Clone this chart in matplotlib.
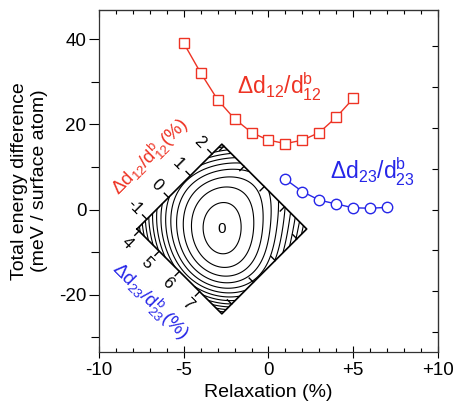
import numpy as np
import matplotlib
matplotlib.use('Agg')
import matplotlib.pyplot as plt
from matplotlib.transforms import Affine2D
from matplotlib.ticker import MultipleLocator

plt.rcParams['font.family'] = ['Liberation Sans', 'DejaVu Sans']
plt.rcParams['mathtext.fontset'] = 'custom'
plt.rcParams['mathtext.rm'] = 'Liberation Sans'
plt.rcParams['mathtext.it'] = 'Liberation Sans:italic'
plt.rcParams['mathtext.default'] = 'regular'
plt.rcParams['axes.unicode_minus'] = False

# energy vs relaxation of the first interlayer spacing
x12 = [-5, -4, -3, -2, -1, 0, 1, 2, 3, 4, 5]
e12 = [39.1, 32.1, 25.8, 21.3, 18.1, 16.3, 15.5, 16.3, 18.1, 21.7, 26.1]
# energy vs relaxation of the second interlayer spacing
x23 = [1, 2, 3, 4, 5, 6, 7]
e23 = [7.1, 4.2, 2.2, 1.3, 0.4, 0.3, 0.5]

xticks = [-10, -5, 0, 5, 10]
xticklabels = ['-10', '-5', '0', '+5', '+10']
yticks = [-20, 0, 20, 40]
right_ticks = [-28.8, -19.2, -9.6, 0, 9.6, 19.2, 28.8, 38.4]

# inset: energy map over (d23, d12)
d12_range = (-1.45, 2.45)
d23_range = (3.9, 8.1)
d12_ticks = [-1, 0, 1, 2]
d23_ticks = [4, 5, 6, 7]
d12_best, d23_best = 0.5, 6.0
# rough shape of the surface (curvature, coupling, anharmonic terms)
A, C, G, Q = 4.56, 2.9, 1.5, 0.3
levels = np.arange(0.6, 40, 1.0)

red = '#ee3324'
blue = '#2626e8'

fig = plt.figure(figsize=(4.56, 4.07), dpi=100)
W, H = 456, 407
ax = fig.add_axes([99 / W, 1 - 352 / H, (438 - 99) / W, (352 - 10) / H])

ax.plot(x12, e12, '-', color=red, lw=1.0, marker='s', ms=7.5, mfc='white', mec=red, mew=1.0)
ax.plot(x23, e23, '-', color=blue, lw=1.0, marker='o', ms=7.5, mfc='white', mec=blue, mew=1.0)

ax.set_xlim(-10, 10)
ax.set_ylim(-33.5, 46.9)
ax.set_xticks(xticks)
ax.set_xticklabels(xticklabels)
ax.set_yticks(yticks)
ax.xaxis.set_minor_locator(MultipleLocator(1))
ax.yaxis.set_minor_locator(MultipleLocator(10))
ax.tick_params(axis='x', which='major', direction='inout', length=8, width=0.8, labelsize=13.5, pad=3)
ax.tick_params(axis='x', which='minor', direction='in', length=3, width=0.8)
ax.tick_params(axis='y', which='major', direction='out', length=7, width=0.8, labelsize=13.5, pad=2)
ax.tick_params(axis='y', which='minor', direction='out', length=6, width=0.8)
for s in ax.spines.values():
    s.set_linewidth(0.9)
    s.set_color('#333333')

axt = ax.secondary_xaxis('top')
axt.set_xticks(xticks)
axt.xaxis.set_minor_locator(MultipleLocator(1))
axt.tick_params(which='major', direction='in', length=5, width=0.8, labeltop=False)
axt.tick_params(which='minor', direction='in', length=3, width=0.8)
axr = ax.secondary_yaxis('right')
axr.set_yticks(right_ticks)
axr.tick_params(direction='in', length=4.5, width=0.8, labelright=False)

ax.set_xlabel('Relaxation (%)', fontsize=14, labelpad=4)
ax.set_ylabel('Total energy difference\n(meV / surface atom)', fontsize=14, labelpad=8)

ax.text(-1.85, 27.0, r'$\Delta d_{12}/d_{12}^{b}$', color=red, fontsize=16.5, va='baseline')
ax.text(3.6, 7.1, r'$\Delta d_{23}/d_{23}^{b}$', color=blue, fontsize=16.5, va='baseline')

# rotated inset drawn in pixel space
ax_in = fig.add_axes([0, 0, 1, 1], zorder=5)
ax_in.patch.set_visible(False)
edge = 120.0
sx = edge / (d23_range[1] - d23_range[0])
sy = edge / (d12_range[1] - d12_range[0])
Lx, Ly = 137, 229
T = (Affine2D().translate(-d23_range[0], -d12_range[0]).scale(sx, -sy)
     .rotate_deg(45).translate(Lx, Ly) + ax_in.transData)

g23 = np.linspace(d23_range[0], d23_range[1], 300)
g12 = np.linspace(d12_range[0], d12_range[1], 300)
G23, G12 = np.meshgrid(g23, g12)
s1 = (G12 - d12_best) / 1.95
s2 = (G23 - d23_best) / 2.1
E = A * (s1 ** 2 + s2 ** 2) + C * s1 * s2 - G * s1 ** 3 + Q * (s1 - s2) ** 4
ax_in.contour(G23, G12, E, levels=levels, colors='k', linewidths=0.8, transform=T)

a0, a1 = d23_range
b0, b1 = d12_range
ax_in.plot([a0, a1, a1, a0, a0], [b0, b0, b1, b1, b0], color='k', lw=1.2, transform=T)
tl = 6.0
for t in d12_ticks:
    ax_in.plot([a0, a0 - tl / sx], [t, t], color='k', lw=1.0, transform=T)
    ax_in.plot([a1, a1 - tl / sx], [t, t], color='k', lw=1.0, transform=T)
    ax_in.text(a0 - 17 / sx, t, str(t), transform=T, rotation=-45, fontsize=12,
               ha='center', va='center', rotation_mode='anchor')
for t in d23_ticks:
    ax_in.plot([t, t], [b0, b0 - tl / sy], color='k', lw=1.0, transform=T)
    ax_in.plot([t, t], [b1, b1 - tl / sy], color='k', lw=1.0, transform=T)
    ax_in.text(t, b0 - 17 / sy, str(t), transform=T, rotation=-45, fontsize=12,
               ha='center', va='center', rotation_mode='anchor')
ax_in.text(a0 - 42 / sx, (b0 + b1) / 2, r'$\Delta d_{12}/d_{12}^{b}(\%)$', transform=T,
           rotation=45, color=red, fontsize=13.5, ha='center', va='center', rotation_mode='anchor')
ax_in.text((a0 + a1) / 2, b0 - 42 / sy, r'$\Delta d_{23}/d_{23}^{b}(\%)$', transform=T,
           rotation=-45, color=blue, fontsize=13.5, ha='center', va='center', rotation_mode='anchor')
ax_in.text(d23_best, d12_best, '0', transform=T, fontsize=11, ha='center', va='center')

ax_in.set_xlim(0, W)
ax_in.set_ylim(H, 0)
ax_in.set_axis_off()

fig.savefig('out.png', dpi=100)
